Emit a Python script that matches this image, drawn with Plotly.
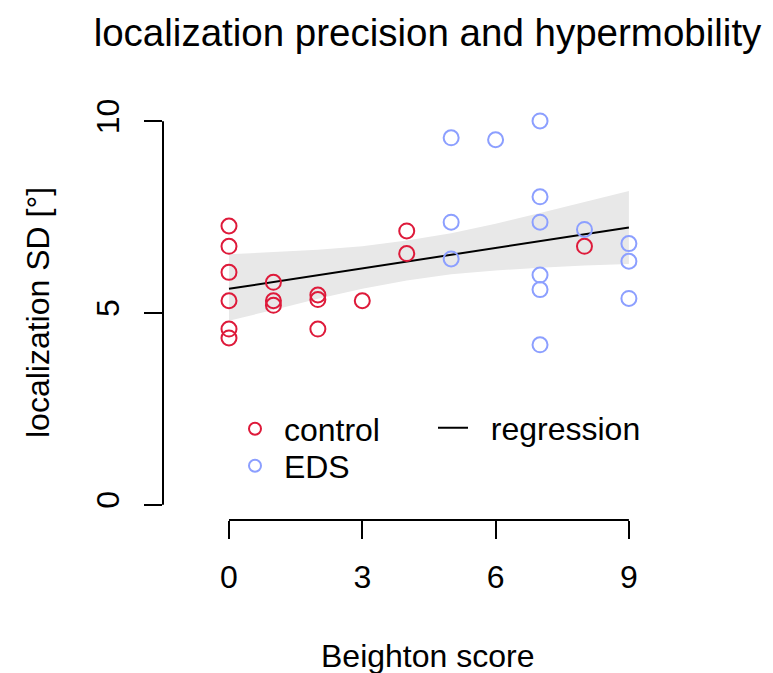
import plotly.graph_objects as go

# ---- data ----
control_x = [0, 0, 0, 0, 0, 0, 1, 1, 1, 2, 2, 2, 3, 4, 4, 8]
control_y = [7.27, 6.74, 6.06, 5.32, 4.58, 4.35, 5.80, 5.32, 5.20, 5.47, 5.35, 4.58, 5.32, 7.14, 6.55, 6.74]

eds_x = [5, 5, 5, 6, 7, 7, 7, 7, 7, 7, 8, 9, 9, 9]
eds_y = [9.57, 7.37, 6.41, 9.52, 10.01, 8.03, 7.37, 5.99, 5.61, 4.17, 7.18, 6.81, 6.35, 5.38]

reg_x = [0, 9]
reg_y = [5.63, 7.23]

band_x = [0, 1, 2, 3, 4, 5, 6, 7, 8, 9]
band_upper = [6.53, 6.59, 6.65, 6.74, 6.89, 7.08, 7.33, 7.61, 7.89, 8.18]
band_lower = [4.80, 5.08, 5.37, 5.63, 5.85, 6.01, 6.11, 6.18, 6.24, 6.28]

x_ticks = [0, 3, 6, 9]
y_ticks = [0, 5, 10]

title_text = "localization precision and hypermobility"
x_title = "Beighton score"
y_title = "localization SD [°]"

# ---- styling ----
RED = "#DE1A3A"
BLUE = "#8C9FFF"
FONT = "Liberation Sans, Arial, Helvetica, sans-serif"
W, H = 773, 673
ML, MR, MT, MB = 163, 81, 106, 153
X_RANGE = [-1.485, 10.42]
Y_RANGE = [-0.4, 10.4]
PW, PH = W - ML - MR, H - MT - MB
NB = "\u00a0"


def paper_x(px):
    return (px - ML) / PW


def paper_y(py):
    return (H - MB - py) / PH


fig = go.Figure()

# confidence band
fig.add_trace(go.Scatter(
    x=band_x + band_x[::-1], y=band_upper + band_lower[::-1],
    fill="toself", fillcolor="#E8E8E8", line=dict(width=0),
    mode="lines", showlegend=False, hoverinfo="skip"))

fig.add_trace(go.Scatter(
    x=reg_x, y=reg_y, mode="lines", name=NB * 2 + "regression",
    line=dict(color="black", width=2), legend="legend2"))

fig.add_trace(go.Scatter(
    x=control_x, y=control_y, mode="markers", name=NB + "control",
    marker=dict(symbol="circle-open", size=15, color=RED, line=dict(width=2, color=RED)),
    legend="legend"))

fig.add_trace(go.Scatter(
    x=eds_x, y=eds_y, mode="markers", name=NB + "EDS",
    marker=dict(symbol="circle-open", size=15, color=BLUE, line=dict(width=2, color=BLUE)),
    legend="legend3"))


# axis lines limited to the tick span (R style)
def frac_x(v):
    return (v - X_RANGE[0]) / (X_RANGE[1] - X_RANGE[0])


def frac_y(v):
    return (v - Y_RANGE[0]) / (Y_RANGE[1] - Y_RANGE[0])


fig.add_shape(type="line", xref="paper", yref="paper",
              x0=frac_x(x_ticks[0]), x1=frac_x(x_ticks[-1]), y0=0, y1=0,
              line=dict(color="black", width=2))
fig.add_shape(type="line", xref="paper", yref="paper",
              x0=0, x1=0, y0=frac_y(y_ticks[0]), y1=frac_y(y_ticks[-1]),
              line=dict(color="black", width=2))

fig.add_annotation(text=x_title, xref="paper", yref="paper",
                   x=0.5, y=paper_y(656), xanchor="center", yanchor="middle",
                   showarrow=False, font=dict(size=32, color="black", family=FONT))
fig.add_annotation(text=y_title, xref="paper", yref="paper",
                   x=paper_x(38), y=0.5, xanchor="center", yanchor="middle",
                   textangle=-90, showarrow=False, font=dict(size=32, color="black", family=FONT))

leg_common = dict(xanchor="left", yanchor="middle", bgcolor="rgba(0,0,0,0)",
                  font=dict(size=32, family=FONT), borderwidth=0)

fig.update_layout(
    width=W, height=H,
    margin=dict(l=ML, r=MR, t=MT, b=MB, pad=0),
    paper_bgcolor="white", plot_bgcolor="white",
    font=dict(family=FONT, size=32, color="black"),
    title=dict(text=title_text, x=0.5, xref="paper", y=1 - 33 / H, yref="container",
               xanchor="center", yanchor="middle", font=dict(size=38.5, family=FONT, color="black")),
    xaxis=dict(range=X_RANGE, tickvals=x_ticks, ticks="outside", ticklen=18, tickwidth=2,
               tickcolor="black", showgrid=False, zeroline=False, showline=False,
               ticklabelstandoff=11, automargin=False,
               tickfont=dict(size=32, family=FONT)),
    yaxis=dict(range=Y_RANGE, tickvals=y_ticks, ticks="outside", ticklen=18, tickwidth=2,
               tickcolor="black", showgrid=False, zeroline=False, showline=False,
               tickangle=-90, ticklabelstandoff=12, automargin=False,
               tickfont=dict(size=32, family=FONT)),
    legend=dict(x=paper_x(235), y=paper_y(429), itemsizing="constant", **leg_common),
    legend3=dict(x=paper_x(235), y=paper_y(466), itemsizing="constant", **leg_common),
    legend2=dict(x=paper_x(433), y=paper_y(428), itemsizing="trace", **leg_common),
    showlegend=True,
)

fig.write_html("out.html", config={"displayModeBar": False},
               post_script="document.body.style.margin='0px';")
